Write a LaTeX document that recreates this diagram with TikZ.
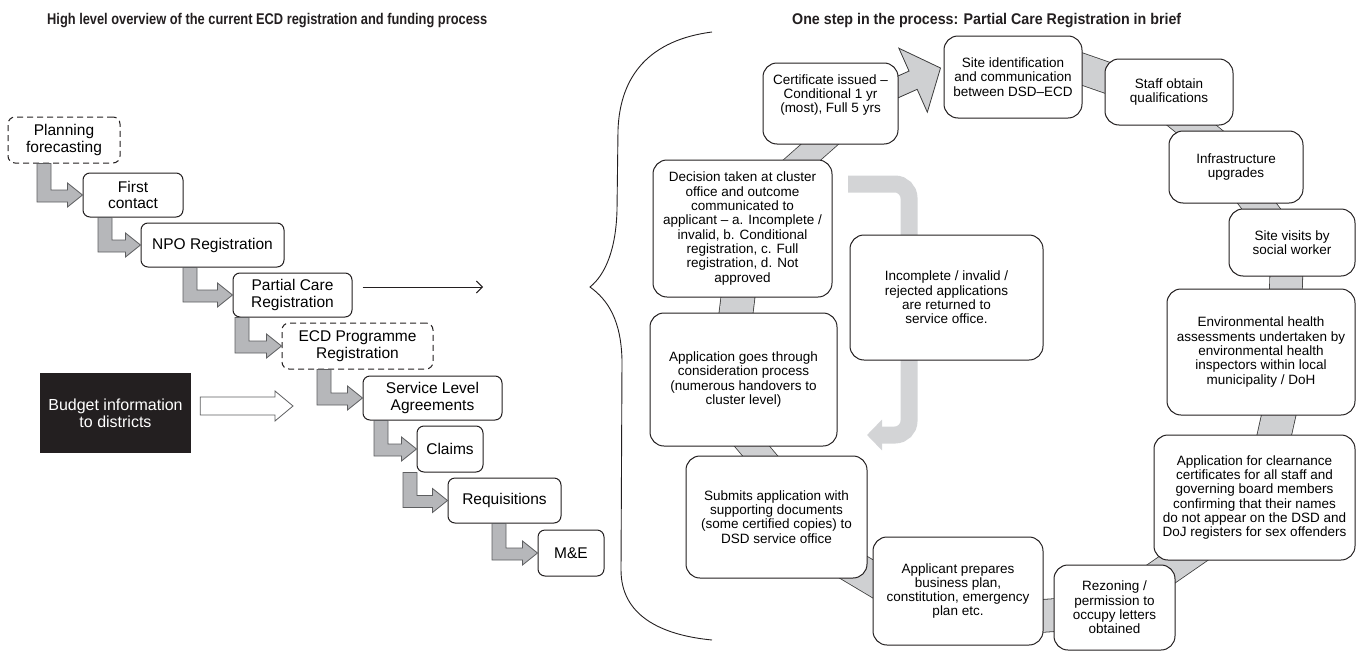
\documentclass[tikz,border=0pt]{standalone}
\usepackage{fontspec}
\setmainfont{Liberation Sans}
\usepackage[HTML]{xcolor}
\usepackage{tikz}
\usetikzlibrary{positioning, arrows.meta, calc, backgrounds}

\definecolor{boxline}{HTML}{231F20}
\definecolor{elbowgray}{HTML}{B6B7BA}
\definecolor{elbowline}{HTML}{5D5E60}
\definecolor{bandgray}{HTML}{CFD0D2}
\definecolor{bandline}{HTML}{3C3C3C}
\definecolor{returngray}{HTML}{D3D4D6}

\begin{document}
\begin{tikzpicture}[x=1pt, y=-1pt,
  stepbox/.style={draw=boxline, line width=1pt, fill=white, rounded corners=7pt, align=center, inner sep=1pt, font=\fontsize{15.5}{16.7}\selectfont},
  planbox/.style={stepbox, dash pattern=on 6pt off 4pt},
  cyclebox/.style={draw=boxline, line width=1pt, fill=white, rounded corners=14pt, align=center, inner sep=1pt, font=\fontsize{13.5}{14.3}\selectfont},
  heading/.style={anchor=base west, inner sep=0pt, font=\bfseries\fontsize{15.5}{16}\selectfont, text=boxline},
  elbow/.style={fill=elbowgray, draw=elbowline, line width=0.8pt},
  band/.style={draw=bandline, line width=0.8pt, double=bandgray}]
\useasboundingbox (0,0) rectangle (1359,653);

% Headings
\node[heading] (lefttitle) at (47,24) {\resizebox{440pt}{\height}{High level overview of the current ECD registration and funding process}};
\node[heading] (righttitle) at (792,24) {\resizebox{389pt}{\height}{One step in the process: Partial Care Registration in brief}};

% Left: staircase of the overall process
\node[planbox, minimum width=112pt, minimum height=46pt] (plan) at (64,140) {Planning\\forecasting};
\node[stepbox, minimum width=100pt, minimum height=44pt] (first) at (133,195) {First\\contact};
\node[stepbox, minimum width=143pt, minimum height=44pt] (npo) at (212.5,245) {NPO Registration};
\node[stepbox, minimum width=119pt, minimum height=44pt] (pcr) at (292.5,295) {Partial Care\\Registration};
\node[planbox, minimum width=151pt, minimum height=46pt] (ecdp) at (357.5,346) {ECD Programme\\Registration};
\node[stepbox, minimum width=139pt, minimum height=44pt] (sla) at (432.5,398) {Service Level\\Agreements};
\node[stepbox, minimum width=66pt, minimum height=46pt] (claims) at (450,449) {Claims};
\node[stepbox, minimum width=113pt, minimum height=45pt] (req) at (504.5,500.5) {Requisitions};
\node[stepbox, minimum width=66pt, minimum height=46pt] (me) at (571,553) {M\&E};
\node[fill=boxline, text=white, align=center, minimum width=151pt, minimum height=80pt, inner sep=1pt, font=\fontsize{16}{17}\selectfont] (budget) at (115.5,413) {Budget information\\to districts};

% elbow arrows between the steps
\foreach \ubox/\lbox/\bx in {plan/first/37, first/npo/98, npo/pcr/183, pcr/ecdp/235, ecdp/sla/317, sla/claims/374, claims/req/403, req/me/492}
  \filldraw[elbow] let \p1=(\ubox.south), \p2=(\lbox.west) in
    (\bx pt,\y1) -- (\bx pt,\y2-7pt) -- (\x2-15pt,\y2-7pt) -- (\x2-15pt,\y2-12pt) -- (\x2,\y2)
    -- (\x2-15pt,\y2+12pt) -- (\x2-15pt,\y2+5pt) -- (\bx pt+14pt,\y2+5pt) -- (\bx pt+14pt,\y1) -- cycle;

% budget arrow (outline only)
\coordinate (budgetto) at (293,406);
\filldraw[fill=white, draw=elbowline, line width=0.8pt] let \p1=(budget.east), \p2=(budgetto) in
  (\x1+9pt,\y2+9pt) -- (\x2-18pt,\y2+9pt) -- (\x2-18pt,\y2+15pt) -- (\x2,\y2)
  -- (\x2-18pt,\y2-15pt) -- (\x2-18pt,\y2-9pt) -- (\x1+9pt,\y2-9pt) -- cycle;

% pointer to the detail
\coordinate (bracepoint) at (483,287);
\draw[line width=0.9pt, draw=boxline, -{Straight Barb[length=6pt,width=12pt]}] ($(pcr.east)+(10,-8)$) -- (bracepoint);

% Brace
\draw[line width=0.9pt, draw=boxline] (712,32) .. controls (650,40) and (620,75) .. (618,130) -- (617,210)
  .. controls (616,250) and (605,275) .. (590,287)
  .. controls (608,300) and (621,320) .. (622,360) -- (621,570)
  .. controls (621,615) and (660,635) .. (712,640);

% Right: Partial Care Registration cycle
\node[cyclebox, minimum width=135pt, minimum height=81pt, text depth=20pt] (cert) at (830.5,103.5) {Certificate issued --\\Conditional 1 yr\\(most), Full 5 yrs};
\node[cyclebox, minimum width=138pt, minimum height=82pt] (siteid) at (1013,77) {Site identification\\and communication\\between DSD--ECD};
\node[cyclebox, minimum width=128pt, minimum height=66pt] (staff) at (1169,92) {Staff obtain\\qualifications};
\node[cyclebox, minimum width=134pt, minimum height=72pt] (infra) at (1236,167) {Infrastructure\\upgrades};
\node[cyclebox, minimum width=126pt, minimum height=67pt] (visits) at (1292,242.5) {Site visits by\\social worker};
\node[cyclebox, minimum width=188pt, minimum height=126pt] (env) at (1261,352) {Environmental health\\assessments undertaken by\\environmental health\\inspectors within local\\municipality / DoH};
\node[cyclebox, minimum width=201pt, minimum height=125pt] (clear) at (1254.5,497.5) {Application for clearnance\\certificates for all staff and\\governing board members\\confirming that their names\\do not appear on the DSD and\\DoJ registers for sex offenders};
\node[cyclebox, minimum width=121pt, minimum height=85pt] (rezone) at (1114.5,607.5) {Rezoning /\\permission to\\occupy letters\\obtained};
\node[cyclebox, minimum width=170pt, minimum height=108pt] (prep) at (958,591) {Applicant prepares\\business plan,\\constitution, emergency\\plan etc.};
\node[cyclebox, minimum width=181pt, minimum height=122pt] (submit) at (776.5,517) {Submits application with\\supporting documents\\(some certified copies) to\\DSD service office};
\node[cyclebox, minimum width=187pt, minimum height=133pt] (consid) at (743.5,379.5) {Application goes through\\consideration process\\(numerous handovers to\\cluster level)};
\node[cyclebox, minimum width=179pt, minimum height=137pt] (decision) at (742.5,228.5) {Decision taken at cluster\\office and outcome\\communicated to\\applicant -- a. Incomplete /\\invalid, b. Conditional\\registration, c. Full\\registration, d. Not\\approved};
\node[cyclebox, minimum width=193pt, minimum height=125pt] (incomplete) at (946.5,297.5) {Incomplete / invalid /\\rejected applications\\are returned to\\service office.};

\begin{pgfonlayer}{background}
% bands joining the cycle
\draw[band, double distance=24pt] ($(decision.north)+(46.5,12)$) -- ($(cert.south)+(2.5,-12)$);
\draw[band, double distance=30pt] ($(siteid.east)+(-12,-12)$) -- ($(staff.west)+(15,-10)$);
\draw[band, double distance=30pt] ($(staff.south)+(3,-16)$) -- ($(infra.north)+(-18,16)$);
\draw[band, double distance=30pt] ($(infra.south)+(2,-25)$) -- ($(visits.north)+(-12,25)$);
\draw[band, double distance=32pt] ($(visits.south)+(-5,-21)$) -- ($(env.north)+(24,26)$);
\draw[band, double distance=33pt] ($(env.south)+(23,-24)$) -- ($(clear.north)+(14.5,24)$);
\draw[band, double distance=30pt] ($(clear.south)+(-49.5,-17)$) -- ($(rezone.north)+(25.5,24)$);
\draw[band, double distance=32pt] ($(prep.east)+(-18,26)$) -- ($(rezone.west)+(18,6.5)$);
\draw[band, double distance=32pt] ($(submit.south)+(50.5,-27)$) -- ($(prep.west)+(14,-4)$);
\draw[band, double distance=26pt] ($(consid.south)+(-6.5,-18)$) -- ($(submit.north)+(-1.5,18)$);
\draw[band, double distance=33pt] ($(decision.south)+(-1.5,-25)$) -- ($(consid.north)+(-10.5,25)$);

% big arrow from certificate to site identification
\coordinate (bigtip) at ($(siteid.west)+(-3,-9)$);
\filldraw[fill=bandgray, draw=bandline, line width=0.8pt] (bigtip) -- ($(bigtip)+(156:30)+(66:35)$) -- ($(bigtip)+(156:30)+(66:10)$)
  -- ($(bigtip)+(156:85)+(66:10)$) -- ($(bigtip)+(156:85)+(246:10)$) -- ($(bigtip)+(156:30)+(246:10)$)
  -- ($(bigtip)+(156:30)+(246:35)$) -- cycle;

% return path for rejected applications
\coordinate (retstart) at (848,184);
\coordinate (retend) at (867,435);
\draw[draw=returngray, line width=17pt, rounded corners=14pt, -{Triangle[length=15pt,width=30pt]}] (retstart) -| ($(retend)+(42,0)$) -- (retend);
\end{pgfonlayer}
\end{tikzpicture}
\end{document}
